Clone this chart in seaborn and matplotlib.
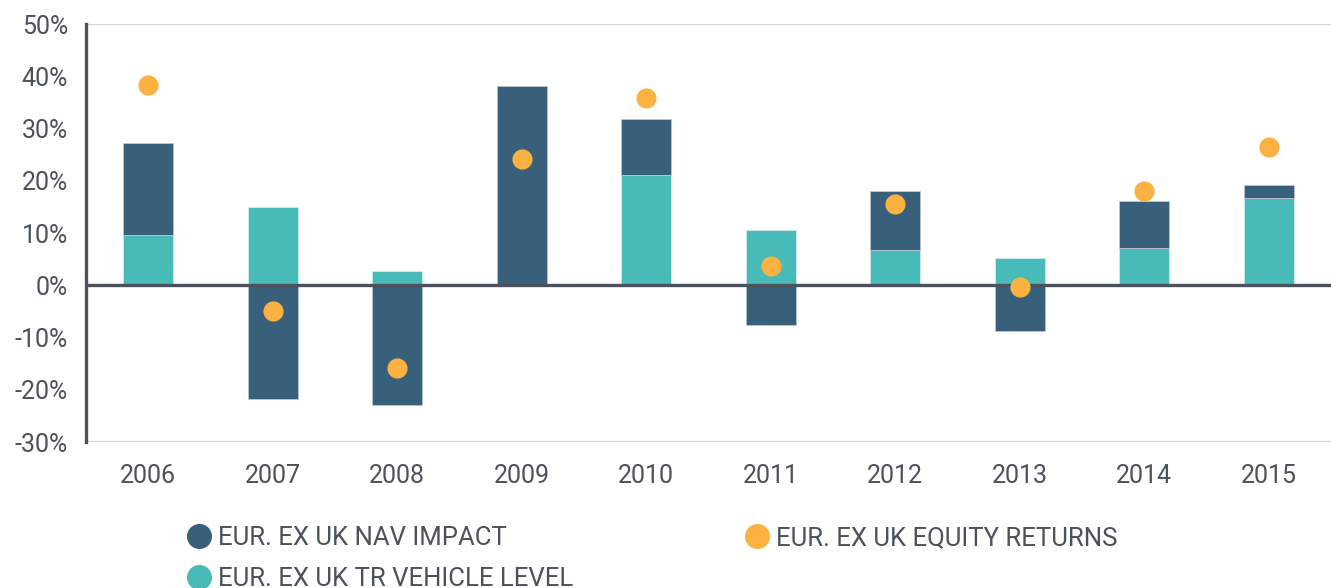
import numpy as np
import pandas as pd
import matplotlib
matplotlib.use("Agg")
import matplotlib.pyplot as plt
from matplotlib.lines import Line2D
import seaborn as sns

# Data (in %)
years = ["2006", "2007", "2008", "2009", "2010", "2011", "2012", "2013", "2014", "2015"]
tr_vehicle = [9.6, 15.0, 2.8, 0.0, 21.2, 10.6, 6.8, 5.3, 7.2, 16.8]
nav_impact = [17.6, -21.8, -22.8, 38.1, 10.6, -7.6, 11.3, -8.8, 9.0, 2.4]
equity_returns = [38.3, -4.9, -15.9, 24.1, 35.8, 3.7, 15.6, -0.4, 18.0, 26.4]
yticks = [-30, -20, -10, 0, 10, 20, 30, 40, 50]

dark = "#38607a"
teal = "#48bab7"
orange = "#fbb241"
text_col = "#4b525b"

df = pd.DataFrame({"year": years, "tr": tr_vehicle, "nav": nav_impact, "eq": equity_returns})
# NAV bar sits on top of the teal bar when positive, hangs from zero when negative
df["nav_bottom"] = np.where(df["nav"] > 0, df["tr"].clip(lower=0), 0)

sns.set_theme(style="white")
plt.rcParams["font.family"] = ["Roboto", "DejaVu Sans"]

fig = plt.figure(figsize=(13.31, 5.88), dpi=100)
ax = fig.add_axes([0.0646, 0.248, 0.9354, 0.711])

sns.barplot(data=df, x="year", y="tr", color=teal, width=0.4, saturation=1,
            edgecolor="#cfeeee", linewidth=0.6, ax=ax)
sns.barplot(data=df, x="year", y="nav", color=dark, width=0.4, saturation=1,
            bottom=df["nav_bottom"].values, edgecolor="#b8c8d2", linewidth=0.6, ax=ax)
sns.stripplot(data=df, x="year", y="eq", color=orange, jitter=False, size=14.5,
              linewidth=0, ax=ax, zorder=5)

ax.set_xlim(-0.5, 9.5)
ax.set_ylim(-30, 50)
ax.set_yticks(yticks)
ax.set_yticklabels([f"{v}%" for v in yticks])
ax.set_xlabel("")
ax.set_ylabel("")

for s in ["top", "right", "bottom"]:
    ax.spines[s].set_visible(False)
ax.spines["left"].set_color(text_col)
ax.spines["left"].set_linewidth(2.4)

ax.axhline(50, color="#ddd4cb", lw=1.6, zorder=0)
ax.axhline(-30, color="#ddd4cb", lw=1.6, zorder=0)
ax.axhline(0, color=text_col, lw=2.4, zorder=4)

ax.tick_params(axis="y", length=0, pad=13, labelsize=18, labelcolor=text_col)
ax.tick_params(axis="x", length=0, pad=16, labelsize=18, labelcolor=text_col)

handles = [
    Line2D([], [], marker="o", ls="", color=dark, markersize=17),
    Line2D([], [], marker="o", ls="", color=teal, markersize=17),
    Line2D([], [], marker="o", ls="", color=orange, markersize=17),
]
labels = ["EUR. EX UK NAV IMPACT", "EUR. EX UK TR VEHICLE LEVEL", "EUR. EX UK EQUITY RETURNS"]
leg = fig.legend(handles, labels, ncol=2, loc="upper left", bbox_to_anchor=(0.132, 0.123),
                 frameon=False, fontsize=18.5, handletextpad=0.25, columnspacing=6.65,
                 labelspacing=0.65, borderaxespad=0, handlelength=1.0)
for t in leg.get_texts():
    t.set_color(text_col)

fig.savefig("out.png", dpi=100)
